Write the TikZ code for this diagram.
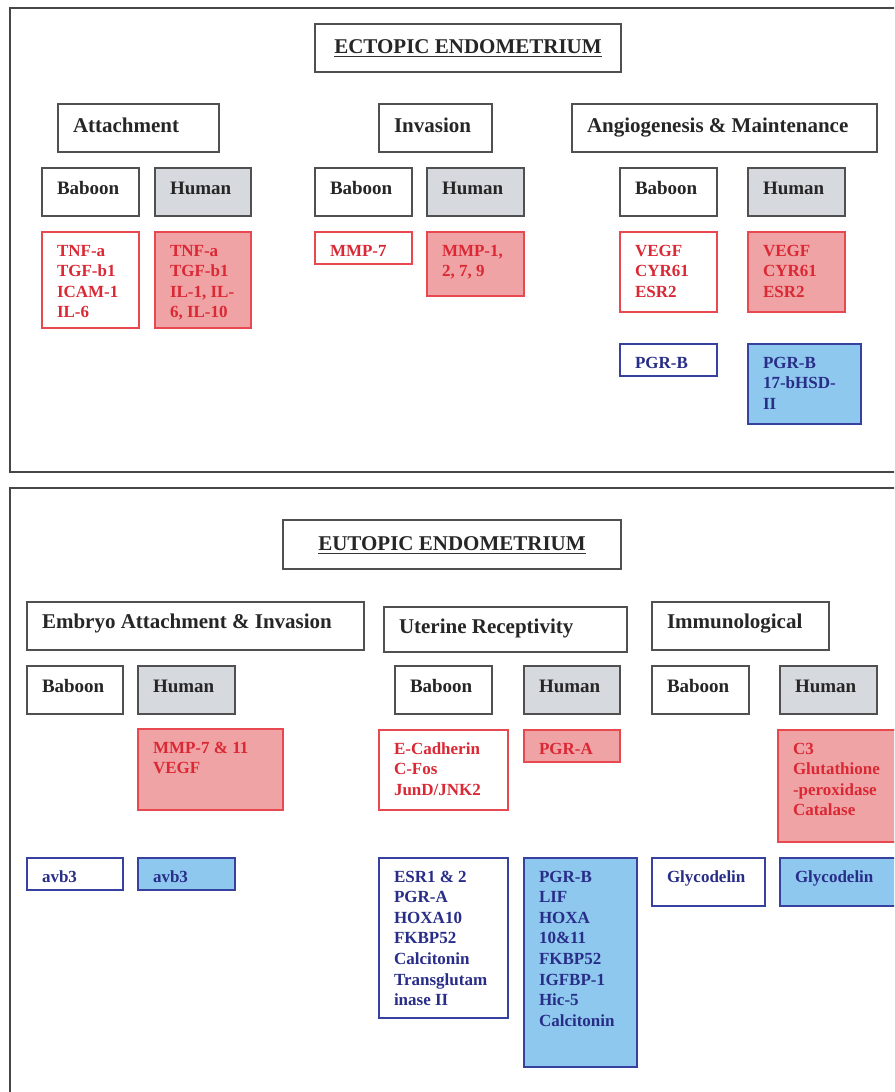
\documentclass[tikz,border=0pt]{standalone}
\usepackage{fontspec}
\setmainfont{Liberation Serif}
\definecolor{panelgray}{RGB}{70,70,70}
\definecolor{boxgray}{RGB}{80,80,80}
\definecolor{humangray}{RGB}{214,217,222}
\definecolor{redborder}{RGB}{232,72,80}
\definecolor{redfillc}{RGB}{240,163,165}
\definecolor{redtextc}{RGB}{218,40,52}
\definecolor{blueborder}{RGB}{55,65,160}
\definecolor{bluefillc}{RGB}{142,200,238}
\definecolor{bluetextc}{RGB}{40,45,135}
\tikzset{
  panelbox/.style={draw=panelgray, line width=1.5pt, anchor=north west, inner sep=0pt, outer sep=0pt},
  boxbase/.style={anchor=north west, inner sep=0pt, outer sep=0pt, line width=1.2pt},
  blackline/.style={boxbase, draw=boxgray, fill=white},
  grayfill/.style={boxbase, draw=boxgray, fill=humangray},
  redline/.style={boxbase, draw=redborder, fill=white},
  redfill/.style={boxbase, draw=redborder, fill=redfillc},
  blueline/.style={boxbase, draw=blueborder, fill=white},
  bluefill/.style={boxbase, draw=blueborder, fill=bluefillc},
  titletext/.style={font=\bfseries\fontsize{21}{25}\selectfont, text=black!85},
  cattext/.style={font=\bfseries\fontsize{21}{25}\selectfont, text=black!85},
  headtext/.style={font=\bfseries\fontsize{19}{23}\selectfont, text=black!85},
  redtext/.style={font=\bfseries\fontsize{17}{20.6}\selectfont, text=redtextc},
  bluetext/.style={font=\bfseries\fontsize{17}{20.6}\selectfont, text=bluetextc},
  lbl/.style={anchor=base west, inner sep=0pt, outer sep=0pt},
}
% lines of text whose baseline is the first line's baseline
\newcommand\lns[1]{\vtop{\let\\\cr\tabskip=0pt\halign{##\hfil\cr#1\crcr}}}
% name, box style, x1, y1, x2, y2, text style, baseline offset, text
\newcommand\mybox[9]{%
  \node[#2, minimum width={(#5-#3)*1pt}, minimum height={(#6-#4)*1pt}] (#1) at (#3,#4) {};
  \node[lbl, #7] (#1-t) at ([xshift=15pt, yshift=-#8pt]#1.north west) {\lns{#9}};
}
\begin{document}
\begin{tikzpicture}[x=1pt, y=-1pt]
\useasboundingbox (0,0) rectangle (894,1092);
\clip (0,0) rectangle (894,1092);
\fill[white] (0,0) rectangle (894,1092);

% ---------------- top panel ----------------
\node[panelbox, minimum width=900pt, minimum height=464pt] (ectopic) at (10,8) {};
\node[blackline, minimum width=306pt, minimum height=48pt] (t1) at (315,24) {};
\node[titletext, anchor=base, inner sep=0pt] (t1-t) at ([yshift=-29pt]t1.north) {ECTOPIC ENDOMETRIUM};
\draw[line width=1.8pt, black!80] ([yshift=-3.5pt]t1-t.base west) -- ([yshift=-3.5pt]t1-t.base east);

\mybox{catA}{blackline}{58}{104}{219}{152}{cattext}{28}{Attachment}
\mybox{catI}{blackline}{379}{104}{492}{152}{cattext}{28}{Invasion}
\mybox{catM}{blackline}{572}{104}{877}{152}{cattext}{28}{Angiogenesis \& Maintenance}

\mybox{aB}{blackline}{42}{168}{139}{216}{headtext}{26}{Baboon}
\mybox{aH}{grayfill}{155}{168}{251}{216}{headtext}{26}{Human}
\mybox{iB}{blackline}{315}{168}{412}{216}{headtext}{26}{Baboon}
\mybox{iH}{grayfill}{427}{168}{524}{216}{headtext}{26}{Human}
\mybox{mB}{blackline}{620}{168}{717}{216}{headtext}{26}{Baboon}
\mybox{mH}{grayfill}{748}{168}{845}{216}{headtext}{26}{Human}

\mybox{aBr}{redline}{42}{232}{139}{328}{redtext}{24}{TNF-a\\TGF-b1\\ICAM-1\\IL-6}
\mybox{aHr}{redfill}{155}{232}{251}{328}{redtext}{24}{TNF-a\\TGF-b1\\IL-1, IL-\\6, IL-10}
\mybox{iBr}{redline}{315}{232}{412}{264}{redtext}{24}{MMP-7}
\mybox{iHr}{redfill}{427}{232}{524}{296}{redtext}{24}{MMP-1,\\2, 7, 9}
\mybox{mBr}{redline}{620}{232}{717}{312}{redtext}{24}{VEGF\\CYR61\\ESR2}
\mybox{mHr}{redfill}{748}{232}{845}{312}{redtext}{24}{VEGF\\CYR61\\ESR2}
\mybox{mBb}{blueline}{620}{344}{717}{376}{bluetext}{24}{PGR-B}
\mybox{mHb}{bluefill}{748}{344}{861}{424}{bluetext}{24}{PGR-B\\17-bHSD-\\II}

% ---------------- bottom panel ----------------
\node[panelbox, minimum width=900pt, minimum height=620pt] (eutopic) at (10,488) {};
\node[blackline, minimum width=338pt, minimum height=49pt] (t2) at (283,520) {};
\node[titletext, anchor=base, inner sep=0pt] (t2-t) at ([yshift=-30pt]t2.north) {EUTOPIC ENDOMETRIUM};
\draw[line width=1.8pt, black!80] ([yshift=-3.5pt]t2-t.base west) -- ([yshift=-3.5pt]t2-t.base east);

\mybox{catE}{blackline}{27}{602}{364}{650}{cattext}{26}{Embryo Attachment \& Invasion}
\mybox{catU}{blackline}{384}{607}{627}{652}{cattext}{26}{Uterine Receptivity}
\mybox{catR}{blackline}{652}{602}{829}{650}{cattext}{26}{Immunological}

\mybox{eB}{blackline}{27}{666}{123}{714}{headtext}{26}{Baboon}
\mybox{eH}{grayfill}{138}{666}{235}{714}{headtext}{26}{Human}
\mybox{uB}{blackline}{395}{666}{492}{714}{headtext}{26}{Baboon}
\mybox{uH}{grayfill}{524}{666}{620}{714}{headtext}{26}{Human}
\mybox{rB}{blackline}{652}{666}{749}{714}{headtext}{26}{Baboon}
\mybox{rH}{grayfill}{780}{666}{877}{714}{headtext}{26}{Human}

\mybox{eHr}{redfill}{138}{729}{283}{810}{redtext}{24}{MMP-7 \& 11\\VEGF}
\mybox{uBr}{redline}{379}{730}{508}{810}{redtext}{24}{E-Cadherin\\C-Fos\\JunD/JNK2}
\mybox{uHr}{redfill}{524}{730}{620}{762}{redtext}{24}{PGR-A}
\mybox{rHr}{redfill}{778}{730}{910}{842}{redtext}{24}{C3\\Glutathione\\-peroxidase\\Catalase}

\mybox{eBb}{blueline}{27}{858}{123}{890}{bluetext}{24}{avb3}
\mybox{eHb}{bluefill}{138}{858}{235}{890}{bluetext}{24}{avb3}
\mybox{uBb}{blueline}{379}{858}{508}{1018}{bluetext}{24}{ESR1 \& 2\\PGR-A\\HOXA10\\FKBP52\\Calcitonin\\Transglutam\\inase II}
\mybox{uHb}{bluefill}{524}{858}{637}{1067}{bluetext}{24}{PGR-B\\LIF\\HOXA\\10\&11\\FKBP52\\IGFBP-1\\Hic-5\\Calcitonin}
\mybox{rBb}{blueline}{652}{858}{765}{906}{bluetext}{24}{Glycodelin}
\mybox{rHb}{bluefill}{780}{858}{910}{906}{bluetext}{24}{Glycodelin}
\end{tikzpicture}
\end{document}
